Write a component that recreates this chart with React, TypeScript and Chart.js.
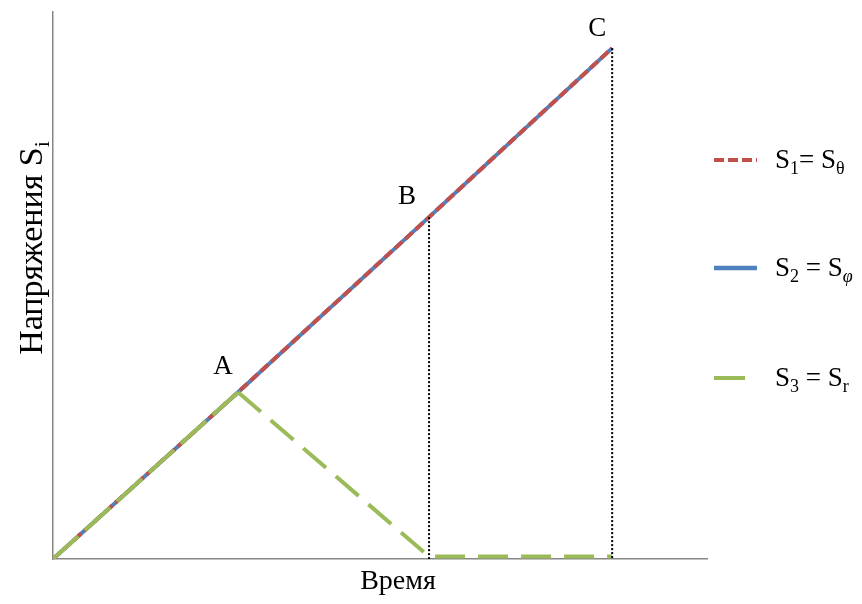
import React, { useEffect, useRef } from "react";
import { Chart, registerables } from "chart.js";

Chart.register(...registerables);

// Key points: origin, A, B, C
const pointNames = ["", "A", "B", "C"];
const timeX = [0, 28.3, 57.5, 85.5];
const stressS1 = [0, 30.5, 62.5, 93.4]; // S1 = Sθ
const stressS2 = [0, 30.5, 62.5, 93.4]; // S2 = Sφ
const stressS3 = [0, 30.5, 0.45, 0.45]; // S3 = Sr

const RED = "#C0504D";
const BLUE = "#4F81BD";
const GREEN = "#9BBB59";
const AXIS = "#868686";
const FONT = "'Liberation Serif', 'Times New Roman', serif";

const labelOffsets = [
  [0, 0],
  [-15, -25],
  [-22, -20],
  [-15, -19],
];

function drawSubText(
  ctx: CanvasRenderingContext2D,
  x: number,
  y: number,
  parts: { t: string; sub?: boolean; italic?: boolean }[],
  size: number,
  measureOnly = false
) {
  let cx = x;
  for (const p of parts) {
    const fs = p.sub ? Math.round(size * 0.66) : size;
    ctx.font = `${p.italic ? "italic " : ""}${fs}px ${FONT}`;
    const dy = p.sub ? size * 0.22 : 0;
    if (!measureOnly) ctx.fillText(p.t, cx, y + dy);
    cx += ctx.measureText(p.t).width;
  }
  return cx - x;
}

const overlayPlugin = {
  id: "overlay",
  afterDraw(chart: any) {
    const { ctx, chartArea, scales } = chart;
    ctx.save();
    ctx.fillStyle = "#000";

    // Point labels A, B, C
    ctx.textAlign = "center";
    ctx.textBaseline = "middle";
    ctx.font = `27px ${FONT}`;
    for (let i = 1; i < pointNames.length; i++) {
      const px = scales.x.getPixelForValue(timeX[i]);
      const py = scales.y.getPixelForValue(stressS1[i]);
      ctx.fillText(pointNames[i], px + labelOffsets[i][0], py + labelOffsets[i][1]);
    }

    // X title
    ctx.textAlign = "center";
    ctx.textBaseline = "alphabetic";
    ctx.font = `28px ${FONT}`;
    ctx.fillText("Время", chartArea.left + 345, chartArea.bottom + 30);

    // Y title (rotated)
    ctx.save();
    ctx.translate(chartArea.left - 11, chartArea.top + 236);
    ctx.rotate(-Math.PI / 2);
    ctx.textAlign = "left";
    const yParts = [{ t: "Напряжения S" }, { t: "i", sub: true }];
    const yw = drawSubText(ctx, 0, 0, yParts, 34, true);
    drawSubText(ctx, -yw / 2, 0, yParts, 34);
    ctx.restore();

    // Legend
    const lx0 = chartArea.right + 7;
    const rows = [
      { y: chartArea.top + 148, color: RED, dash: [10, 4], len: 43, width: 4,
        parts: [{ t: "S" }, { t: "1", sub: true }, { t: "= S" }, { t: "θ", sub: true }] },
      { y: chartArea.top + 256, color: BLUE, dash: [], len: 43, width: 4.5,
        parts: [{ t: "S" }, { t: "2", sub: true }, { t: " = S" }, { t: "φ", sub: true, italic: true }] },
      { y: chartArea.top + 366, color: GREEN, dash: [], len: 31, width: 4,
        parts: [{ t: "S" }, { t: "3", sub: true }, { t: " = S" }, { t: "r", sub: true }] },
    ];
    ctx.textAlign = "left";
    for (const r of rows) {
      ctx.beginPath();
      ctx.setLineDash(r.dash);
      ctx.lineWidth = r.width;
      ctx.strokeStyle = r.color;
      ctx.lineCap = "butt";
      ctx.moveTo(lx0, r.y);
      ctx.lineTo(lx0 + r.len, r.y);
      ctx.stroke();
      ctx.setLineDash([]);
      ctx.fillStyle = "#000";
      drawSubText(ctx, lx0 + 61, r.y + 8, r.parts, 27);
    }
    ctx.restore();
  },
};

export default function App() {
  const ref = useRef<HTMLCanvasElement | null>(null);

  useEffect(() => {
    if (!ref.current) return;
    const pts = (ys: number[]) => timeX.map((x, i) => ({ x, y: ys[i] }));
    const chart = new Chart(ref.current, {
      type: "line",
      data: {
        datasets: [
          {
            label: "S2",
            data: pts(stressS2),
            borderColor: BLUE,
            borderWidth: 4,
            pointRadius: 0,
            tension: 0,
            order: 4,
          },
          {
            label: "S1",
            data: pts(stressS1),
            borderColor: RED,
            borderWidth: 4,
            borderDash: [10, 4],
            pointRadius: 0,
            tension: 0,
            order: 3,
          },
          {
            label: "S3",
            data: pts(stressS3),
            borderColor: GREEN,
            borderWidth: 4,
            pointRadius: 0,
            tension: 0,
            order: 2,
            segment: {
              borderDash: (c: any) => (c.p0DataIndex === 0 ? [34, 9] : [30, 13]),
            },
          },
          {
            label: "dropB",
            data: [
              { x: timeX[2], y: stressS1[2] },
              { x: timeX[2], y: 0 },
            ],
            borderColor: "#000",
            borderWidth: 2,
            borderDash: [2, 2],
            pointRadius: 0,
            order: 1,
          },
          {
            label: "dropC",
            data: [
              { x: timeX[3], y: stressS1[3] },
              { x: timeX[3], y: 0 },
            ],
            borderColor: "#000",
            borderWidth: 2,
            borderDash: [2, 2],
            pointRadius: 0,
            order: 1,
          },
        ],
      },
      options: {
        animation: false,
        responsive: false,
        layout: { padding: { left: 53, top: 12, right: 155, bottom: 45 } },
        plugins: { legend: { display: false }, tooltip: { enabled: false } },
        scales: {
          x: {
            type: "linear",
            min: 0,
            max: 100,
            ticks: { display: false },
            grid: { display: false, drawTicks: false },
            border: { display: true, color: AXIS, width: 1.5 },
          },
          y: {
            type: "linear",
            min: 0,
            max: 100,
            ticks: { display: false },
            grid: { display: false, drawTicks: false },
            border: { display: true, color: AXIS, width: 1.5 },
          },
        },
      },
      plugins: [overlayPlugin],
    });
    return () => chart.destroy();
  }, []);

  return (
    <div style={{ position: "fixed", left: 0, top: 0, width: 862, height: 604, background: "#fff" }}>
      <canvas ref={ref} width={862} height={604} style={{ display: "block" }} />
    </div>
  );
}
